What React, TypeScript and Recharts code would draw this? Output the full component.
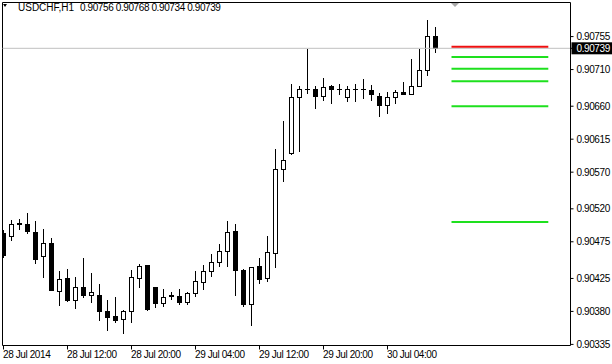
import React from 'react';
import { ComposedChart, Bar, XAxis, YAxis, ReferenceLine } from 'recharts';

// ---- data (prices) ----
const opens = [
  0.90487, 0.90483, 0.90500, 0.90499, 0.90488, 0.90455, 0.90474, 0.90408, 0.90426, 0.90395,
  0.90413, 0.90403, 0.90403, 0.90381, 0.90374, 0.90369, 0.90380, 0.90425, 0.90443, 0.90413,
  0.90391, 0.90402, 0.90401, 0.90393, 0.90405, 0.90420, 0.90435, 0.90448, 0.90463, 0.90490,
  0.90437, 0.90390, 0.90442, 0.90426, 0.90460, 0.90574, 0.90596, 0.90672, 0.90684, 0.90684,
  0.90674, 0.90688, 0.90684, 0.90672, 0.90683, 0.90683, 0.90682, 0.90674, 0.90661, 0.90672,
  0.90679, 0.90677, 0.90687, 0.90709, 0.90756,
];
const highs = [
  0.90491, 0.90505, 0.90506, 0.90514, 0.90503, 0.90493, 0.90480, 0.90435, 0.90438, 0.90427,
  0.90453, 0.90433, 0.90417, 0.90396, 0.90399, 0.90382, 0.90437, 0.90445, 0.90444, 0.90413,
  0.90411, 0.90406, 0.90411, 0.90406, 0.90435, 0.90444, 0.90458, 0.90472, 0.90503, 0.90499,
  0.90438, 0.90441, 0.90453, 0.90483, 0.90602, 0.90640, 0.90690, 0.90688, 0.90738, 0.90688,
  0.90698, 0.90689, 0.90690, 0.90688, 0.90690, 0.90697, 0.90689, 0.90678, 0.90680, 0.90682,
  0.90693, 0.90724, 0.90738, 0.90778, 0.90768,
];
const lows = [
  0.90454, 0.90478, 0.90493, 0.90487, 0.90446, 0.90427, 0.90409, 0.90389, 0.90394, 0.90384,
  0.90400, 0.90393, 0.90368, 0.90355, 0.90366, 0.90350, 0.90366, 0.90414, 0.90382, 0.90386,
  0.90387, 0.90397, 0.90390, 0.90390, 0.90401, 0.90411, 0.90428, 0.90442, 0.90442, 0.90402,
  0.90387, 0.90362, 0.90419, 0.90421, 0.90440, 0.90558, 0.90595, 0.90599, 0.90678, 0.90658,
  0.90668, 0.90664, 0.90677, 0.90667, 0.90667, 0.90671, 0.90668, 0.90646, 0.90651, 0.90665,
  0.90676, 0.90676, 0.90687, 0.90703, 0.90734,
];
const closes = [
  0.90457, 0.90499, 0.90499, 0.90490, 0.90452, 0.90474, 0.90409, 0.90424, 0.90396, 0.90413,
  0.90402, 0.90407, 0.90380, 0.90373, 0.90368, 0.90381, 0.90427, 0.90442, 0.90383, 0.90391,
  0.90400, 0.90401, 0.90393, 0.90405, 0.90422, 0.90435, 0.90447, 0.90462, 0.90489, 0.90436,
  0.90390, 0.90441, 0.90424, 0.90461, 0.90574, 0.90586, 0.90673, 0.90683, 0.90683, 0.90674,
  0.90686, 0.90683, 0.90683, 0.90683, 0.90683, 0.90683, 0.90676, 0.90661, 0.90672, 0.90679,
  0.90676, 0.90687, 0.90709, 0.90756, 0.90739,
];

const timeTicks = [0, 8, 16, 24, 32, 40, 48];
const timeLabels = ['28 Jul 2014', '28 Jul 12:00', '28 Jul 20:00', '29 Jul 04:00', '29 Jul 12:00', '29 Jul 20:00', '30 Jul 04:00'];
const priceTicks = [0.90755, 0.90739, 0.90710, 0.90660, 0.90615, 0.90570, 0.90520, 0.90475, 0.90425, 0.90380, 0.90335];
const bidPrice = 0.90739;
const redLevel = 0.90741;
const greenLevels = [0.90727, 0.90711, 0.90694, 0.90660, 0.90502];
const levelFrom = 56;
const levelTo = 68.1;
const symbolLabel = 'USDCHF,H1';
const ohlcLabel = '0.90756 0.90768 0.90734 0.90739';

const X_DOMAIN: [number, number] = [-0.125, 70.875];
const Y_DOMAIN: [number, number] = [0.903335, 0.908015];
const FONT = '"Liberation Sans", Arial, sans-serif';

const data = opens.map((o, i) => ({ i, open: o, high: highs[i], low: lows[i], close: closes[i] }));

const Candle = (props: any) => {
  const { x, y, width, height, payload } = props;
  if (x == null || y == null || !payload) return null;
  const { open, close, high, low } = payload;
  const cx = Math.floor(x + width / 2) + 0.5;
  const span = high - low;
  const yOf = (v: number) => y + ((high - v) / span) * height;
  const yHigh = Math.round(yOf(high));
  const yLow = Math.round(yOf(low));
  const top = Math.round(yOf(Math.max(open, close))) + 0.5;
  const bot = Math.round(yOf(Math.min(open, close))) + 0.5;
  const bull = close > open;
  return (
    <g>
      <line x1={cx} x2={cx} y1={yHigh} y2={yLow + 1} stroke="#000" strokeWidth={1} />
      {bot - top < 1 ? (
        <line x1={cx - 2.5} x2={cx + 2.5} y1={top} y2={top} stroke="#000" strokeWidth={1} />
      ) : (
        <rect x={cx - 2} y={top} width={4} height={bot - top} fill={bull ? '#fff' : '#000'} stroke="#000" strokeWidth={1} />
      )}
    </g>
  );
};

const XTick = (props: any) => {
  const { x, y, payload } = props;
  const idx = timeTicks.indexOf(payload.value);
  return (
    <text x={x - 0.5} y={y + 8.5} textAnchor="start" fontSize={10} fontFamily={FONT} letterSpacing={-0.4} fill="#000">
      {idx >= 0 ? timeLabels[idx] : ''}
    </text>
  );
};

const YTick = (props: any) => {
  const { x, y, payload } = props;
  const v = payload.value as number;
  const isBid = Math.abs(v - bidPrice) < 1e-7;
  return (
    <g>
      {isBid && <rect x={x - 5} y={y - 6} width={41} height={12} fill="#000" />}
      <text x={x} y={y + 3.5} textAnchor="start" fontSize={10} fontFamily={FONT} letterSpacing={-0.4} fill={isBid ? '#fff' : '#000'}>
        {v.toFixed(5)}
      </text>
    </g>
  );
};

export default function App() {
  return (
    <div style={{ position: 'absolute', left: 0, top: 0, width: 612, height: 364, background: '#fff', fontFamily: FONT }}>
      <ComposedChart width={612} height={364} data={data} margin={{ top: 2.5, right: 0, bottom: 0, left: 2.5 }}>
        <XAxis
          dataKey="i"
          type="number"
          domain={X_DOMAIN}
          ticks={timeTicks}
          interval={0}
          tickSize={4}
          tickMargin={0}
          height={18.5}
          tick={<XTick />}
          axisLine={{ stroke: '#000' }}
          tickLine={{ stroke: '#000' }}
          allowDataOverflow
        />
        <YAxis
          orientation="right"
          type="number"
          domain={Y_DOMAIN}
          ticks={priceTicks}
          interval={0}
          width={41.5}
          tickSize={3}
          tickMargin={3}
          tick={<YTick />}
          axisLine={{ stroke: '#000' }}
          tickLine={{ stroke: '#000' }}
          allowDataOverflow
        />
        <ReferenceLine x={X_DOMAIN[0]} stroke="#000" />
        <ReferenceLine y={Y_DOMAIN[1]} stroke="#000" />
        <ReferenceLine y={bidPrice} stroke="#c0c0c0" />
        <Bar dataKey={(d: any) => [d.low, d.high]} barSize={4} shape={<Candle />} isAnimationActive={false} />
        <ReferenceLine
          segment={[{ x: levelFrom, y: redLevel }, { x: levelTo, y: redLevel }]}
          stroke="#ee1111"
          strokeWidth={2}
        />
        {greenLevels.map((p, k) => (
          <ReferenceLine
            key={k}
            segment={[{ x: levelFrom, y: p }, { x: levelTo, y: p }]}
            stroke="#1ee01e"
            strokeWidth={2}
          />
        ))}
      </ComposedChart>
      <div style={{ position: 'absolute', left: 3, top: 4, width: 0, height: 0, borderLeft: '2px solid transparent', borderRight: '2px solid transparent', borderTop: '3px solid #000' }} />
      <div style={{ position: 'absolute', left: 18, top: 2, fontSize: 10, lineHeight: '12px', whiteSpace: 'nowrap', color: '#000' }}>{symbolLabel}</div>
      <div style={{ position: 'absolute', left: 80, top: 2, fontSize: 10, lineHeight: '12px', whiteSpace: 'nowrap', color: '#000', letterSpacing: '-0.4px' }}>{ohlcLabel}</div>
      <div style={{ position: 'absolute', left: 451, top: 3, width: 0, height: 0, borderLeft: '4px solid transparent', borderRight: '4px solid transparent', borderTop: '4px solid #a8a8a8' }} />
    </div>
  );
}
